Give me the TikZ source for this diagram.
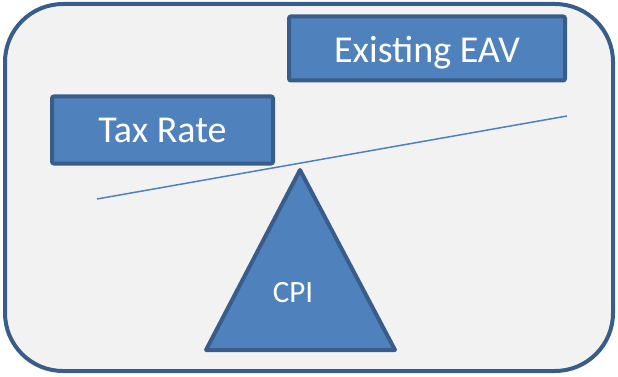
\documentclass[tikz,border=0pt]{standalone}
\usepackage{fontspec}
\setmainfont{Carlito}
\usetikzlibrary{positioning,calc}
\definecolor{boxfill}{HTML}{4F81BD}
\definecolor{boxline}{HTML}{385D8A}
\definecolor{panel}{HTML}{F2F2F2}

\begin{document}
\begin{tikzpicture}[x=1pt,y=-1pt,every node/.style={text=white,text depth=0pt,inner sep=0pt},
  factor/.style={draw=boxline,fill=boxfill,line width=4pt,rounded corners=2pt,font=\fontsize{38}{40}\selectfont},
  plank/.style={draw=boxfill,line width=1.5pt}]
\useasboundingbox (0,0) rectangle (618,377);
\draw[boxline,fill=panel,line width=4pt,rounded corners=58pt] (5,4) rectangle (613,371);
% balance beam
\coordinate (pl) at (97,199);
\coordinate (pr) at (567,116);
\path[plank] (pl) -- (pr);
\node[factor,minimum width=221pt,minimum height=67pt] (tax) at (162.5,130) {Tax Rate};
\node[factor,minimum width=276pt,minimum height=64pt,text height=29pt] (eav) at (427,48.5) {Existing EAV};
% fulcrum
\coordinate (apex) at (300,170);
\coordinate (bl) at (206,350);
\coordinate (br) at (395,350);
\draw[boxline,fill=boxfill,line width=4pt,line join=round] (apex) -- (bl) -- (br) -- cycle;
\node[font=\fontsize{31}{33}\selectfont] (cpi) at (293,292.5) {CPI};
\end{tikzpicture}
\end{document}
